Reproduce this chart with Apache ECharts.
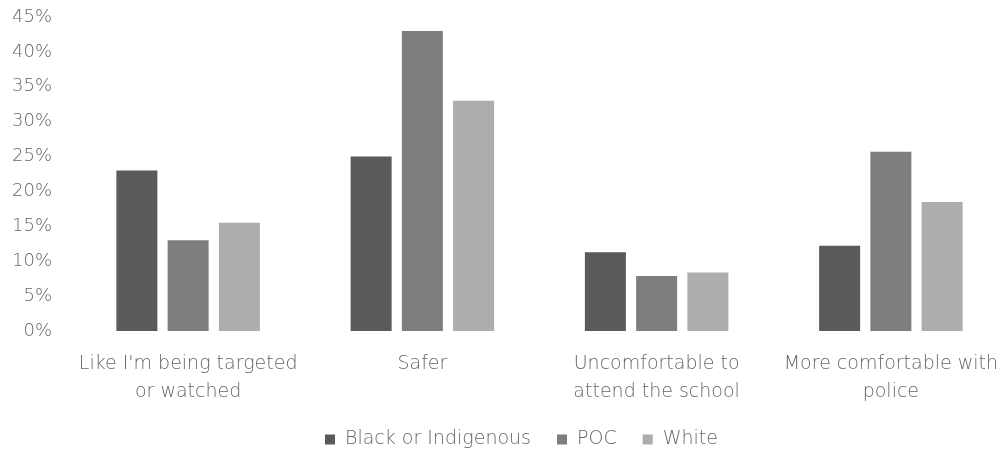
<!DOCTYPE html>
<html>
<head>
<meta charset="utf-8">
<script src="https://cdn.jsdelivr.net/npm/echarts@6/dist/echarts.min.js"></script>
<style>
  html, body { margin: 0; padding: 0; background: #ffffff; }
  #chart { width: 1008px; height: 456px; }
</style>
</head>
<body>
<div id="chart"></div>
<script>
// Survey responses by group (percent)
const categories = [
  "Like I'm being targeted\nor watched",
  "Safer",
  "Uncomfortable to\nattend the school",
  "More comfortable with\npolice"
];
const seriesNames = ["Black or Indigenous", "POC", "White"];
const blackOrIndigenous = [23, 25, 11.3, 12.2];
const poc = [13, 43, 7.9, 25.7];
const white = [15.5, 33, 8.4, 18.5];
const yTicks = [0, 5, 10, 15, 20, 25, 30, 35, 40, 45];

const colors = ["#5a5a5a", "#7e7e7e", "#adadad"];
const fontFamily = "'DejaVu Sans', 'Open Sans', sans-serif";
const textColor = '#666666';

const chart = echarts.init(document.getElementById('chart'), null, { renderer: 'canvas' });

const seriesData = [blackOrIndigenous, poc, white];

chart.setOption({
  animation: false,
  color: colors,
  textStyle: { fontFamily: fontFamily, fontWeight: 200 },
  grid: { left: 71, right: -6, top: 17, bottom: 125 },
  legend: {
    data: seriesNames,
    bottom: 2,
    left: 320,
    itemWidth: 10,
    itemHeight: 10,
    itemGap: 26,
    icon: 'rect',
    textStyle: {
      color: textColor,
      fontSize: 19,
      fontWeight: 200,
      fontFamily: fontFamily,
      padding: [0, 0, 0, 5]
    }
  },
  xAxis: {
    type: 'category',
    data: categories,
    axisLine: { show: false },
    axisTick: { show: false },
    axisLabel: {
      color: textColor,
      fontSize: 19,
      fontWeight: 200,
      lineHeight: 28,
      margin: 19,
      interval: 0,
      fontFamily: fontFamily
    }
  },
  yAxis: {
    type: 'value',
    min: yTicks[0],
    max: yTicks[yTicks.length - 1],
    interval: 5,
    splitLine: { show: false },
    axisLine: { show: false },
    axisTick: { show: false },
    axisLabel: {
      color: textColor,
      fontSize: 18,
      fontWeight: 200,
      margin: 19,
      fontFamily: fontFamily,
      formatter: v => v + '%'
    }
  },
  series: seriesNames.map((name, i) => ({
    name: name,
    type: 'bar',
    data: seriesData[i],
    barWidth: 41,
    barGap: '25%',
    itemStyle: { color: colors[i] }
  }))
});
</script>
</body>
</html>
